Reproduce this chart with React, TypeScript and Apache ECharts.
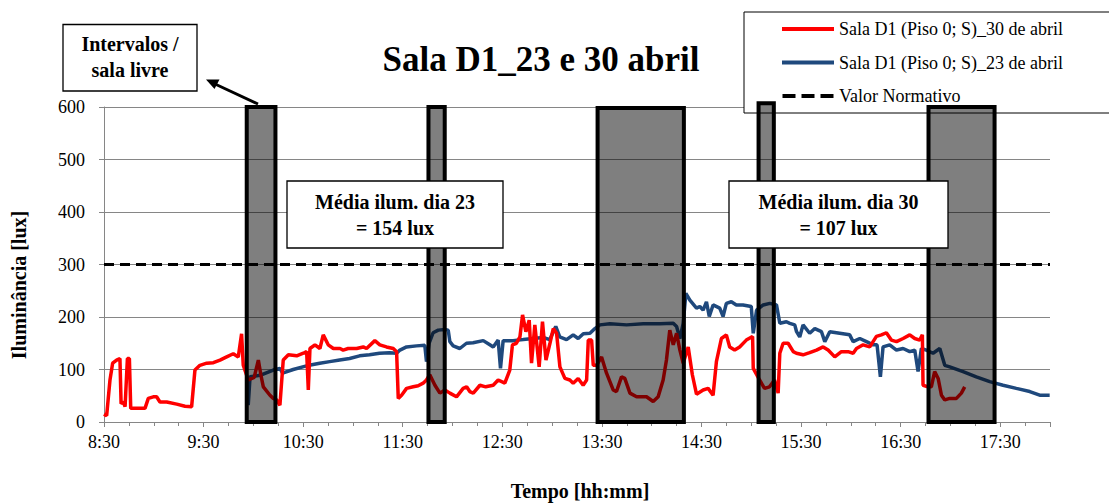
import React, { useEffect, useRef } from "react";
import * as echarts from "echarts";

// time in minutes since midnight, illuminance in lux
const red30Times = [
  510, 511.6, 513.6, 515.2, 517.6, 519.6, 520.3, 521.7, 522.7, 524.1, 525.3, 526.1, 527.7, 534.7, 536.7, 539.7,
  541.7, 543.7, 547.8, 553.8, 558.8, 562.8, 564.8, 567.8, 571.9, 575.9, 579.9, 583.9, 587.9, 590.9, 592.9, 593.9,
  596.9, 600.5, 603, 604.5, 606, 610, 612, 614, 616, 618, 621.1, 626.1, 630.1, 632.1, 633.1, 634.1, 637.1, 640.1,
  642.1, 645.1, 648.2, 652.2, 654.1, 657.1, 662.2, 666.2, 668.2, 673.2, 676.2, 680.2, 684.3, 686.3, 687.3, 689.3,
  692.3, 696.3, 699.3, 702.3, 704.3, 706.3, 709.4, 712.4, 715.4, 718.4, 722.4, 726.4, 728.5, 730.4, 732.5, 736.5,
  740, 744.5, 747.5, 751.5, 754.5, 756.1, 758.5, 760.6, 762.2, 764.2, 766.2, 767.6, 769.6, 772.2, 774.2, 776.3,
  778.7, 780.7, 782.7, 784.7, 787.7, 790.7, 792.7, 795.7, 798.7, 800.8, 801.8, 803.8, 804.8, 806.8, 809.8, 812.8,
  816.8, 818.8, 821.8, 823.8, 826.9, 830.9, 836.9, 840.9, 843.9, 846.9, 848.9, 850.9, 853, 855, 857, 859, 862,
  864.5, 867, 871, 874, 877, 879, 882, 885, 887, 890, 893, 897, 900.8, 901.2, 905, 908, 911, 914, 916.2, 917.2,
  919.2, 922.2, 925.3, 927.2, 931.2, 935.2, 939.3, 943.3, 946.3, 950.3, 954.3, 958.3, 961.4, 963.4, 967.4, 971.4,
  975.4, 978.4, 981.4, 984.4, 987.5, 991.5, 995.5, 998.5, 1001.5, 1003.1, 1003.5, 1006.5, 1008.5, 1010.5, 1012.6,
  1014.6, 1016.6, 1019.6, 1023.6, 1026.6, 1028.6,
];
const red30Values = [
  15, 12, 80, 112, 118, 121, 35, 38, 29, 121, 121, 26, 26, 26, 45, 48,
  48, 38, 38, 34, 30, 29, 99, 108, 112, 113, 118, 124, 130, 124, 168, 108,
  80, 85, 118, 90, 67, 51, 45, 42, 32, 118, 128, 126, 131, 134, 61, 140, 147, 140,
  166, 147, 140, 140, 137, 140, 140, 143, 140, 155, 147, 143, 140, 134, 45, 51,
  64, 67, 69, 74, 80, 90, 70, 55, 61, 55, 48, 64, 67, 58, 55, 70,
  67, 70, 80, 74, 99, 147, 150, 162, 204, 172, 194, 112, 185, 105, 191, 118,
  150, 178, 169, 105, 83, 80, 74, 83, 70, 80, 156, 156, 108, 108, 124, 93,
  61, 58, 86, 83, 55, 48, 48, 39, 48, 80, 118, 175, 147, 169, 137, 112, 143,
  90, 53, 61, 64, 51, 115, 159, 166, 143, 137, 143, 156, 163, 102, 80, 64, 67, 80, 55, 131,
  150, 150, 134, 131, 128, 132, 137, 143, 137, 124, 134, 134, 131, 140, 147, 143,
  163, 166, 170, 156, 153, 159, 166, 159, 156, 166, 70, 67, 67, 96, 83,
  51, 42, 45, 45, 55, 67,
];

const blue23Times = [
  596.9, 598, 604, 612, 616, 617.6, 624, 632, 640, 646, 652, 658, 664, 670, 676, 682, 686.3, 688.3, 692.3, 698.3,
  703.3, 704.3, 705.9, 708.3, 711.4, 715.4, 717.4, 718.4, 720.4, 724.4, 728.4, 732.4, 738.5, 742.5, 744.5, 747.5,
  748.9, 750.5, 756.5, 762.6, 768.6, 774.6, 778.6, 782.2, 784.6, 788.7, 792.7, 795.7, 798.8, 802.8, 805.8, 808.8,
  814.8, 824.9, 834.9, 844.9, 853, 855, 857, 859, 860.6, 863, 867, 869, 871, 873, 874.7, 877, 881, 883, 885, 888,
  891, 895, 900, 901.2, 903.2, 907.2, 911.2, 915.2, 917.2, 921.2, 923.2, 926.2, 927.3, 929.2, 931.2, 935.2, 938.3,
  942.3, 944.3, 947.3, 953.3, 959.3, 961.4, 965.4, 969.4, 973.4, 975.8, 977.8, 979.4, 983.4, 987.5, 991.5, 995.5,
  998.5, 1000.5, 1002.5, 1005.5, 1009.5, 1013.6, 1016.6, 1019.6, 1027.6, 1035.6, 1043.7, 1051.7, 1059.7, 1067.8,
  1073.8, 1079.8,
];
const blue23Values = [
  32, 86, 89, 99, 102, 93, 100, 107, 112, 115, 118, 121, 126, 128, 131, 132, 131, 137, 143, 145,
  146, 115, 150, 170, 175, 176, 175, 153, 145, 140, 150, 151, 155, 147, 143, 156,
  102, 155, 155, 157, 159, 161, 157, 182, 162, 157, 166, 159, 168, 169, 178, 185,
  187, 185, 187, 187, 188, 182, 159, 188, 245, 232, 217, 220, 213, 229, 201, 223, 217, 201, 226, 229,
  223, 223, 220, 169, 213, 223, 226, 223, 188, 191, 188, 185, 172, 162, 185, 169, 178,
  172, 153, 172, 169, 166, 153, 159, 153, 147, 147, 86, 143, 147, 137, 140, 134,
  137, 96, 140, 137, 131, 140, 108, 105, 96, 86, 77, 70, 64, 58,
  51, 51,
];

const normTimes = [510, 1080];
const normValues = [300, 300];

// free-room intervals (minutes) and box top (lux)
const intervalStart = [596, 705.5, 807.4, 904.4, 1006.8];
const intervalEnd = [613.3, 715.3, 859.4, 913.6, 1046.6];
const intervalTop = [600, 600, 598, 607, 600];

const yTicks = [0, 100, 200, 300, 400, 500, 600];

const nameRed = "Sala D1 (Piso 0; S)_30 de abril";
const nameBlue = "Sala D1 (Piso 0; S)_23 de abril";
const nameNorm = "Valor Normativo";

const FONT = "'Liberation Serif', 'Times New Roman', serif";

const fmt = (m: number) => {
  const h = Math.floor(m / 60);
  const mm = Math.round(m - h * 60);
  return `${h}:${String(mm).padStart(2, "0")}`;
};

const zip = (a: number[], b: number[]) => a.map((t, i) => [t, b[i]]);

const ICON_SOLID = "path://M0,0H52V4H0Z";
const ICON_DASH = "path://M0,0H13V4H0Z M19,0H32V4H19Z M38,0H51V4H38Z";

export default function App() {
  const ref = useRef<HTMLDivElement>(null);
  useEffect(() => {
    if (!ref.current) return;
    const chart = echarts.init(ref.current, null, { renderer: "svg" });
    const boxes = intervalStart.map((s, i) => [s, intervalEnd[i], intervalTop[i]]);
    const option: any = {
      animation: false,
      backgroundColor: "#fff",
      textStyle: { fontFamily: FONT, color: "#000" },
      grid: { left: 104, right: 59, top: 107, bottom: 82 },
      legend: {
        data: [
          { name: nameRed, icon: ICON_SOLID },
          { name: nameBlue, icon: ICON_SOLID },
          { name: nameNorm, icon: ICON_DASH },
        ],
        orient: "vertical",
        left: 744,
        top: 12,
        itemWidth: 52,
        itemHeight: 4,
        itemGap: 15.5,
        padding: [8, 80, 8, 38],
        borderColor: "#000",
        borderWidth: 1,
        backgroundColor: "#fff",
        textStyle: { fontFamily: FONT, fontSize: 18, lineHeight: 18, color: "#000" },
      },
      xAxis: {
        type: "value",
        min: 510,
        max: 1080,
        interval: 60,
        axisLine: { show: true, lineStyle: { color: "#868686", width: 1 } },
        axisTick: { show: true, length: 5, lineStyle: { color: "#868686" } },
        minorTick: { show: true, splitNumber: 4, length: 4, lineStyle: { color: "#868686" } },
        splitLine: { show: false },
        axisLabel: {
          margin: 11,
          fontFamily: FONT,
          fontSize: 18,
          color: "#000",
          formatter: (v: number) => (v >= 1080 ? "" : fmt(v)),
        },
      },
      yAxis: {
        type: "value",
        min: yTicks[0],
        max: yTicks[yTicks.length - 1],
        interval: 100,
        axisLine: { show: true, lineStyle: { color: "#868686", width: 1 } },
        axisTick: { show: true, length: 5, lineStyle: { color: "#868686" } },
        splitLine: { show: true, lineStyle: { color: "#868686", width: 1 } },
        axisLabel: { margin: 19, fontFamily: FONT, fontSize: 18, color: "#000" },
      },
      series: [
        {
          name: nameBlue,
          type: "line",
          data: zip(blue23Times, blue23Values),
          symbol: "none",
          z: 2,
          lineStyle: { color: "#1F497D", width: 3.5 },
          itemStyle: { color: "#1F497D" },
        },
        {
          name: nameRed,
          type: "line",
          data: zip(red30Times, red30Values),
          symbol: "none",
          z: 3,
          lineStyle: { color: "#FF0000", width: 3.5 },
          itemStyle: { color: "#FF0000" },
        },
        {
          name: nameNorm,
          type: "line",
          data: zip(normTimes, normValues),
          symbol: "none",
          z: 4,
          lineStyle: { color: "#000", width: 3, type: [10, 6] },
          itemStyle: { color: "#000" },
        },
        {
          name: "Intervalos",
          type: "custom",
          z: 5,
          clip: false,
          data: boxes,
          encode: { x: [0, 1], y: 2 },
          renderItem: (params: any, api: any) => {
            const p1 = api.coord([api.value(0), api.value(2)]);
            const p2 = api.coord([api.value(1), 0]);
            return {
              type: "rect",
              shape: { x: p1[0], y: p1[1], width: p2[0] - p1[0], height: p2[1] - p1[1] },
              style: { fill: "rgba(0,0,0,0.5)", stroke: "#000", lineWidth: 4 },
            };
          },
        },
      ],
      graphic: [
        {
          type: "text",
          z: 100,
          x: 541,
          y: 59,
          style: {
            text: "Sala D1_23 e 30 abril",
            font: `bold 35px ${FONT}`,
            fill: "#000",
            align: "center",
            verticalAlign: "middle",
          },
        },
        {
          type: "rect",
          z: 100,
          shape: { x: 63, y: 24.5, width: 134, height: 66.5 },
          style: { fill: "#fff", stroke: "#000", lineWidth: 1.3 },
        },
        {
          type: "text",
          z: 101,
          x: 130,
          y: 44,
          style: { text: "Intervalos /", font: `bold 20px ${FONT}`, fill: "#000", align: "center", verticalAlign: "middle" },
        },
        {
          type: "text",
          z: 101,
          x: 130,
          y: 70,
          style: { text: "sala livre", font: `bold 20px ${FONT}`, fill: "#000", align: "center", verticalAlign: "middle" },
        },
        {
          type: "line",
          z: 100,
          shape: { x1: 258, y1: 104, x2: 215, y2: 84 },
          style: { stroke: "#000", lineWidth: 3 },
        },
        {
          type: "polygon",
          z: 100,
          shape: { points: [[206, 79.5], [219.5, 79.5], [214.5, 89]] },
          style: { fill: "#000" },
        },
        {
          type: "rect",
          z: 100,
          shape: { x: 287, y: 181, width: 216, height: 67 },
          style: { fill: "#fff", stroke: "#000", lineWidth: 1.3 },
        },
        {
          type: "text",
          z: 101,
          x: 395,
          y: 202,
          style: { text: "Média ilum. dia 23", font: `bold 20px ${FONT}`, fill: "#000", align: "center", verticalAlign: "middle" },
        },
        {
          type: "text",
          z: 101,
          x: 395,
          y: 228,
          style: { text: "= 154 lux", font: `bold 20px ${FONT}`, fill: "#000", align: "center", verticalAlign: "middle" },
        },
        {
          type: "rect",
          z: 100,
          shape: { x: 729, y: 181, width: 219, height: 67 },
          style: { fill: "#fff", stroke: "#000", lineWidth: 1.3 },
        },
        {
          type: "text",
          z: 101,
          x: 838.5,
          y: 202,
          style: { text: "Média ilum. dia 30", font: `bold 20px ${FONT}`, fill: "#000", align: "center", verticalAlign: "middle" },
        },
        {
          type: "text",
          z: 101,
          x: 838.5,
          y: 228,
          style: { text: "= 107 lux", font: `bold 20px ${FONT}`, fill: "#000", align: "center", verticalAlign: "middle" },
        },
        {
          type: "text",
          z: 100,
          x: 580,
          y: 491,
          style: { text: "Tempo [hh:mm]", font: `bold 20px ${FONT}`, fill: "#000", align: "center", verticalAlign: "middle" },
        },
        {
          type: "text",
          z: 100,
          x: 19,
          y: 285,
          rotation: Math.PI / 2,
          style: { text: "Iluminância [lux]", font: `bold 20px ${FONT}`, fill: "#000", align: "center", verticalAlign: "middle" },
        },
      ],
    };
    chart.setOption(option);
    return () => chart.dispose();
  }, []);
  return (
    <div
      ref={ref}
      style={{ position: "absolute", left: 0, top: 0, width: 1109, height: 504, background: "#fff" }}
    />
  );
}
